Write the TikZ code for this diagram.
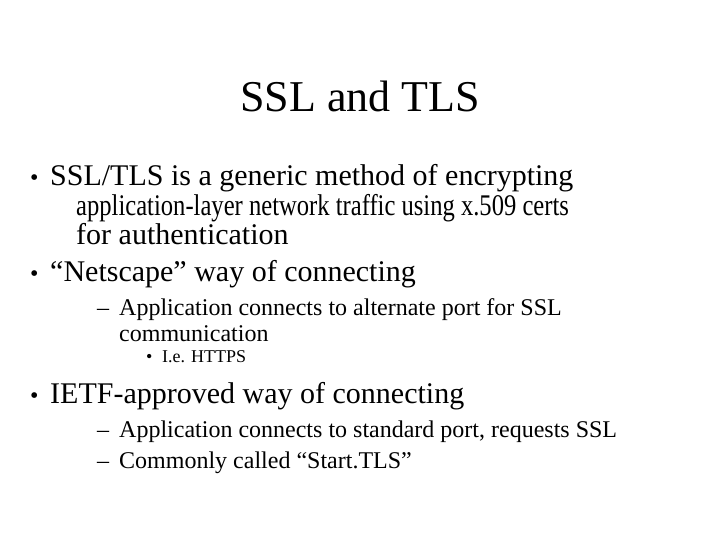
\documentclass[tikz,border=0pt]{standalone}
\usepackage{fontspec}
\setmainfont{Liberation Serif}
\begin{document}
\begin{tikzpicture}[x=1pt,y=-1pt,
  t/.style={anchor=base west,inner sep=0pt},
  la/.style={t,font=\fontsize{30}{33}\selectfont},
  lb/.style={t,font=\fontsize{24}{28}\selectfont},
  lc/.style={t,font=\fontsize{18}{21}\selectfont}]
\fill[white] (0,0) rectangle (720,540);
\node[anchor=base,inner sep=0pt,font=\fontsize{44}{50}\selectfont] (title) at (360,112) {SSL and TLS};
\node[lb] (b1) at (30,186) {•};
\node[la] (l1) at (50,186) {SSL/TLS is a generic method of encrypting};
\node[t] (l2) at (76,215) {\scalebox{0.82}[1]{\fontsize{30}{33}\selectfont application-layer network traffic using x.509 certs}};
\node[la] (l3) at (76,244) {for authentication};
\node[lb] (b2) at (30,281) {•};
\node[la] (l4) at (50,281) {“Netscape” way of connecting};
\node[lb] (d1) at (97,315) {–};
\node[lb] (l5) at (119,315) {Application connects to alternate port for SSL};
\node[lb] (l6) at (119,341) {communication};
\node[lc] (b3) at (146,362) {•};
\node[lc] (l7) at (162,362) {I.e. HTTPS};
\node[lb] (b4) at (30,403) {•};
\node[la] (l8) at (50,403) {IETF-approved way of connecting};
\node[lb] (d2) at (97,437) {–};
\node[lb] (l9) at (119,437) {Application connects to standard port, requests SSL};
\node[lb] (d3) at (97,468) {–};
\node[lb] (l10) at (119,468) {Commonly called “Start.TLS”};
\end{tikzpicture}
\end{document}
